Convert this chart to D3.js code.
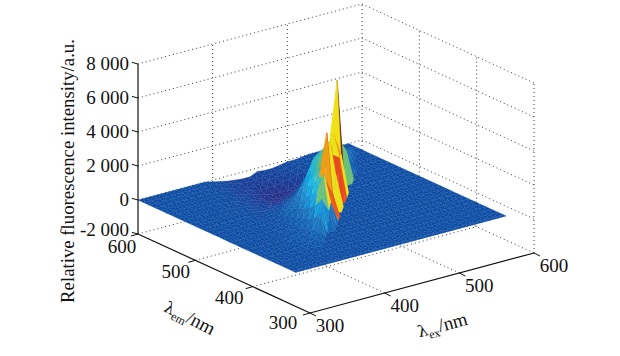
<!DOCTYPE html>
<html>
<head>
<meta charset="utf-8">
<script src="https://cdn.jsdelivr.net/npm/d3@7.9.0/dist/d3.min.js"></script>
<style>
  body { margin: 0; background: #fff; }
  text { font-family: "Liberation Serif", serif; fill: #111; }
</style>
</head>
<body>
<svg id="chart" width="620" height="356"></svg>
<script>
const zTicks = [-2000, 0, 2000, 4000, 6000, 8000];
const zTickLabels = ["-2 000", "0", "2 000", "4 000", "6 000", "8 000"];
const exTicks = [300, 400, 500, 600];
const emTicks = [300, 400, 500, 600];

// surface grid
const exGrid = [300,310,320,330,340,350,360,370,380,390,400,410,420,430,440,450,460,470,480,490,500,510,520,530,540,550,560,570,582];
const emGrid = [600,590,580,570,560,550,540,530,520,510,500,490,480,470,460,450,440,430,420,410,400,390,380,370,360,350,340,330,325];
const zRows = [
  [0,0,0,0,0,0,0,0,0,0,-100,-200,-300,-350,-400,-400,-200,-250,-250,-180,-100,-100,-50,0,0,0,0,0,0],
  [0,0,0,0,0,0,0,0,0,-50,-100,-200,-300,-400,-450,-450,-350,-300,-300,-200,-100,-50,0,0,0,0,0,0,0],
  [0,0,0,0,0,0,0,0,-50,-100,-200,-300,-400,-500,-500,-500,-400,-350,-300,-200,-100,-50,0,0,0,0,100,200,0],
  [0,0,0,0,0,0,0,0,-50,-100,-200,-300,-400,-500,-600,-600,-600,-500,-400,-300,-200,-100,-50,0,0,200,400,0,0],
  [0,0,0,0,0,0,0,0,-50,-150,-250,-350,-450,-600,-700,-800,-800,-800,-700,-600,-400,-200,0,100,300,700,0,0,0],
  [0,0,0,0,0,0,0,0,-50,-150,-250,-400,-500,-700,-800,-900,-800,-700,-500,-300,0,200,300,500,800,0,0,0,0],
  [0,0,0,0,0,0,0,-50,-100,-200,-300,-400,-500,-700,-800,-700,-600,-400,-100,200,500,700,800,1000,0,0,0,0,0],
  [0,0,0,0,0,0,0,-50,-100,-200,-300,-400,-500,-700,-600,-500,-200,100,500,900,1200,1400,1200,800,0,0,0,0,0],
  [0,0,0,0,0,0,0,-50,-100,-200,-300,-400,-500,-500,-300,-100,300,900,1400,1800,2000,2200,0,0,0,0,0,0,0],
  [0,0,0,0,0,0,0,-50,-100,-200,-300,-300,-300,-200,0,500,1200,1900,2300,2600,2400,1800,0,0,0,0,0,0,0],
  [0,0,0,0,0,0,0,-50,-100,-150,-200,-100,-50,100,600,1300,2200,2500,2900,6350,0,0,0,0,0,0,0,0,0],
  [0,0,0,0,0,0,0,-50,-100,-100,-50,50,200,700,1300,2300,2500,3000,3000,0,0,0,0,0,0,0,0,0,0],
  [0,0,0,0,0,0,0,-50,-50,0,100,300,700,1200,1900,2500,3000,3700,2400,0,0,0,0,0,0,0,0,0,0],
  [0,0,0,0,0,0,0,0,0,100,300,600,1000,1700,2400,3000,2800,2500,0,0,0,0,0,0,0,0,0,0,0],
  [0,0,0,0,0,0,0,0,50,200,500,800,1500,2200,3000,3800,0,0,0,0,0,0,0,0,0,0,0,0,0],
  [0,0,0,0,0,0,0,50,100,300,600,1200,1900,2800,3000,2000,0,0,0,0,0,0,0,0,0,0,0,0,0],
  [0,0,0,0,0,0,0,100,100,400,800,1500,2400,4900,0,0,0,0,0,0,0,0,0,0,0,0,0,0,0],
  [0,0,0,0,0,0,50,100,200,500,1000,1900,2500,1500,0,0,0,0,0,0,0,0,0,0,0,0,0,0,0],
  [0,0,0,0,0,0,100,200,200,600,1300,3000,1200,0,0,0,0,0,0,0,0,0,0,0,0,0,0,0,0],
  [0,0,0,0,0,50,100,200,300,800,1800,1000,0,0,0,0,0,0,0,0,0,0,0,0,0,0,0,0,0],
  [0,0,0,0,0,100,200,300,400,1200,0,0,0,0,0,0,0,0,0,0,0,0,0,0,0,0,0,0,0],
  [0,0,0,0,50,100,200,300,600,0,0,0,0,0,0,0,0,0,0,0,0,0,0,0,0,0,0,0,0],
  [0,0,0,0,50,100,200,300,0,0,0,0,0,0,0,0,0,0,0,0,0,0,0,0,0,0,0,0,0],
  [0,0,0,0,50,100,100,0,0,0,0,0,0,0,0,0,0,0,0,0,0,0,0,0,0,0,0,0,0],
  [0,0,0,0,50,50,0,0,0,0,0,0,0,0,0,0,0,0,0,0,0,0,0,0,0,0,0,0,0],
  [0,0,0,0,0,0,0,0,0,0,0,0,0,0,0,0,0,0,0,0,0,0,0,0,0,0,0,0,0],
  [0,0,0,0,0,0,0,0,0,0,0,0,0,0,0,0,0,0,0,0,0,0,0,0,0,0,0,0,0],
  [0,0,0,0,0,0,0,0,0,0,0,0,0,0,0,0,0,0,0,0,0,0,0,0,0,0,0,0,0],
  [0,0,0,0,0,0,0,0,0,0,0,0,0,0,0,0,0,0,0,0,0,0,0,0,0,0,0,0,0]
];

// colour values of the faces on either side of the tall peaks
const peakZ = [6350, 4900, 3700, 3800, 3000];
const peakLeftC = [5300, 5900, 5200, 5000, 3000];
const peakRightC = [7500, 6600, 5900, 6200, 4800];
// colour values of the faces on the teeth along the ridge's right edge
const toothEx = [430, 450, 470, 480, 510];
const toothC = [6300, 5000, 6400, 5200, 3000];

const svg = d3.select("#chart");

const exScale = d3.scaleLinear().domain([300, 600]).range([0, 1]);
const emScale = d3.scaleLinear().domain([300, 600]).range([0, 1]);
const zScale = d3.scaleLinear().domain([-2000, 8000]).range([0, 170]);

const colorScale = d3.scaleLinear()
  .domain([-1000, 0, 1000, 2000, 3000, 4000, 5500, 6500, 7500])
  .range(["#2b2a86", "#0f4ea5", "#1a78c2", "#10b8ec", "#6cc07a", "#d8de2c", "#f5e312", "#e8361e", "#6a1f22"])
  .clamp(true);

function project(ex, em, z) {
  const a = exScale(ex), b = emScale(em);
  return [310 + 224 * a - 172 * b, 313 - 60 * a - 79 * b - zScale(z)];
}

function dotted(p0, p1) {
  svg.append("line")
    .attr("x1", p0[0]).attr("y1", p0[1])
    .attr("x2", p1[0]).attr("y2", p1[1])
    .attr("stroke", "#222")
    .attr("stroke-width", 0.9)
    .attr("stroke-dasharray", "1 3");
}

function solid(p0, p1, w) {
  svg.append("line")
    .attr("x1", p0[0]).attr("y1", p0[1])
    .attr("x2", p1[0]).attr("y2", p1[1])
    .attr("stroke", "#111")
    .attr("stroke-width", w);
}

// back walls and floor
zTicks.forEach((z) => {
  dotted(project(300, 600, z), project(600, 600, z));
  dotted(project(600, 600, z), project(600, 300, z));
});
exTicks.slice(1).forEach((t) => {
  dotted(project(t, 600, -2000), project(t, 600, 8000));
  if (t < 600) dotted(project(t, 300, -2000), project(t, 600, -2000));
});
emTicks.slice(1).forEach((t) => {
  if (t < 600) {
    dotted(project(600, t, -2000), project(600, t, 8000));
    dotted(project(300, t, -2000), project(600, t, -2000));
  }
});
dotted(project(600, 300, -2000), project(600, 300, 8000));

// surface, back to front
const faces = [];
function addFace(v) {
  const zs = v.map((d) => d[2]);
  const pts = v.map((d) => project(d[0], d[1], d[2]));
  const top = d3.max(zs);
  const peak = pts[zs.indexOf(top)];
  const cx = d3.mean(pts, (p) => p[0]);
  const depth = d3.mean(v, (d) => 172 * exScale(d[0]) + 225 * emScale(d[1]));
  let val = (top + d3.mean(zs)) / 2;
  const tooth = v.find((d) => d[0] === d[1] && d[2] > 0 && toothEx.includes(d[0]));
  if (tooth) val = toothC[toothEx.indexOf(tooth[0])];
  const k = peakZ.indexOf(top);
  if (k >= 0) val = cx > peak[0] + 2 ? peakRightC[k] : peakLeftC[k];
  faces.push({ pts, depth, val });
}
zRows.forEach((row, j) => {
  if (j === zRows.length - 1) return;
  row.forEach((z, i) => {
    if (i === row.length - 1) return;
    const a = [exGrid[i], emGrid[j], z];
    const b = [exGrid[i + 1], emGrid[j], row[i + 1]];
    const c = [exGrid[i], emGrid[j + 1], zRows[j + 1][i]];
    const d = [exGrid[i + 1], emGrid[j + 1], zRows[j + 1][i + 1]];
    addFace([a, b, c]);
    addFace([b, c, d]);
  });
});
faces.sort((p, q) => q.depth - p.depth);

svg.append("g").selectAll("path")
  .data(faces)
  .join("path")
  .attr("d", (f) => d3.line()(f.pts) + "Z")
  .attr("fill", (f) => colorScale(f.val))
  .attr("stroke", (f) => d3.interpolateRgb(colorScale(f.val), "#5f8fd0")(0.05))
  .attr("stroke-width", 0.3)
  .attr("stroke-linejoin", "round");

// axes
solid(project(300, 600, -2000), project(300, 600, 8000), 1.2);
solid(project(300, 600, -2000), project(300, 300, -2000), 1.2);
solid(project(300, 300, -2000), project(600, 300, -2000), 1.2);

zTicks.forEach((z, i) => {
  const p = project(300, 600, z);
  solid(p, [p[0] - 6, p[1] - 1.6], 1);
  svg.append("text")
    .attr("x", p[0] - 9)
    .attr("y", p[1] + (z === -2000 ? 2 : 6))
    .attr("text-anchor", "end")
    .attr("font-size", 19)
    .text(zTickLabels[i]);
});

emTicks.forEach((t) => {
  const p = project(300, t, -2000);
  solid(p, [p[0] - 7, p[1] + 2], 1);
  svg.append("text")
    .attr("x", p[0] - 27 + 11 * emScale(t))
    .attr("y", p[1] + 16 + 3 * emScale(t))
    .attr("text-anchor", "middle")
    .attr("font-size", 19)
    .text(t);
});

exTicks.forEach((t) => {
  const p = project(t, 300, -2000);
  solid(p, [p[0] + 6, p[1] + 3], 1);
  svg.append("text")
    .attr("x", p[0] + 20)
    .attr("y", p[1] + 19)
    .attr("text-anchor", "middle")
    .attr("font-size", 19)
    .text(t);
});

// axis titles
svg.append("text")
  .attr("transform", "translate(74,171) rotate(-90)")
  .attr("text-anchor", "middle")
  .attr("font-size", 18.8)
  .text("Relative fluorescence intensity/a.u.");

function lambdaTitle(x, y, angle, sub) {
  const t = svg.append("text")
    .attr("transform", `translate(${x},${y}) rotate(${angle})`)
    .attr("text-anchor", "middle")
    .attr("font-size", 19);
  t.append("tspan").attr("font-family", "'DejaVu Serif'").attr("font-size", 16).text("λ");
  t.append("tspan").attr("dy", 4).attr("font-size", 12).text(sub);
  t.append("tspan").attr("dy", -4).text("/nm");
}
lambdaTitle(187, 323, 27, "em");
lambdaTitle(444, 331, -15, "ex");
</script>
</body>
</html>
